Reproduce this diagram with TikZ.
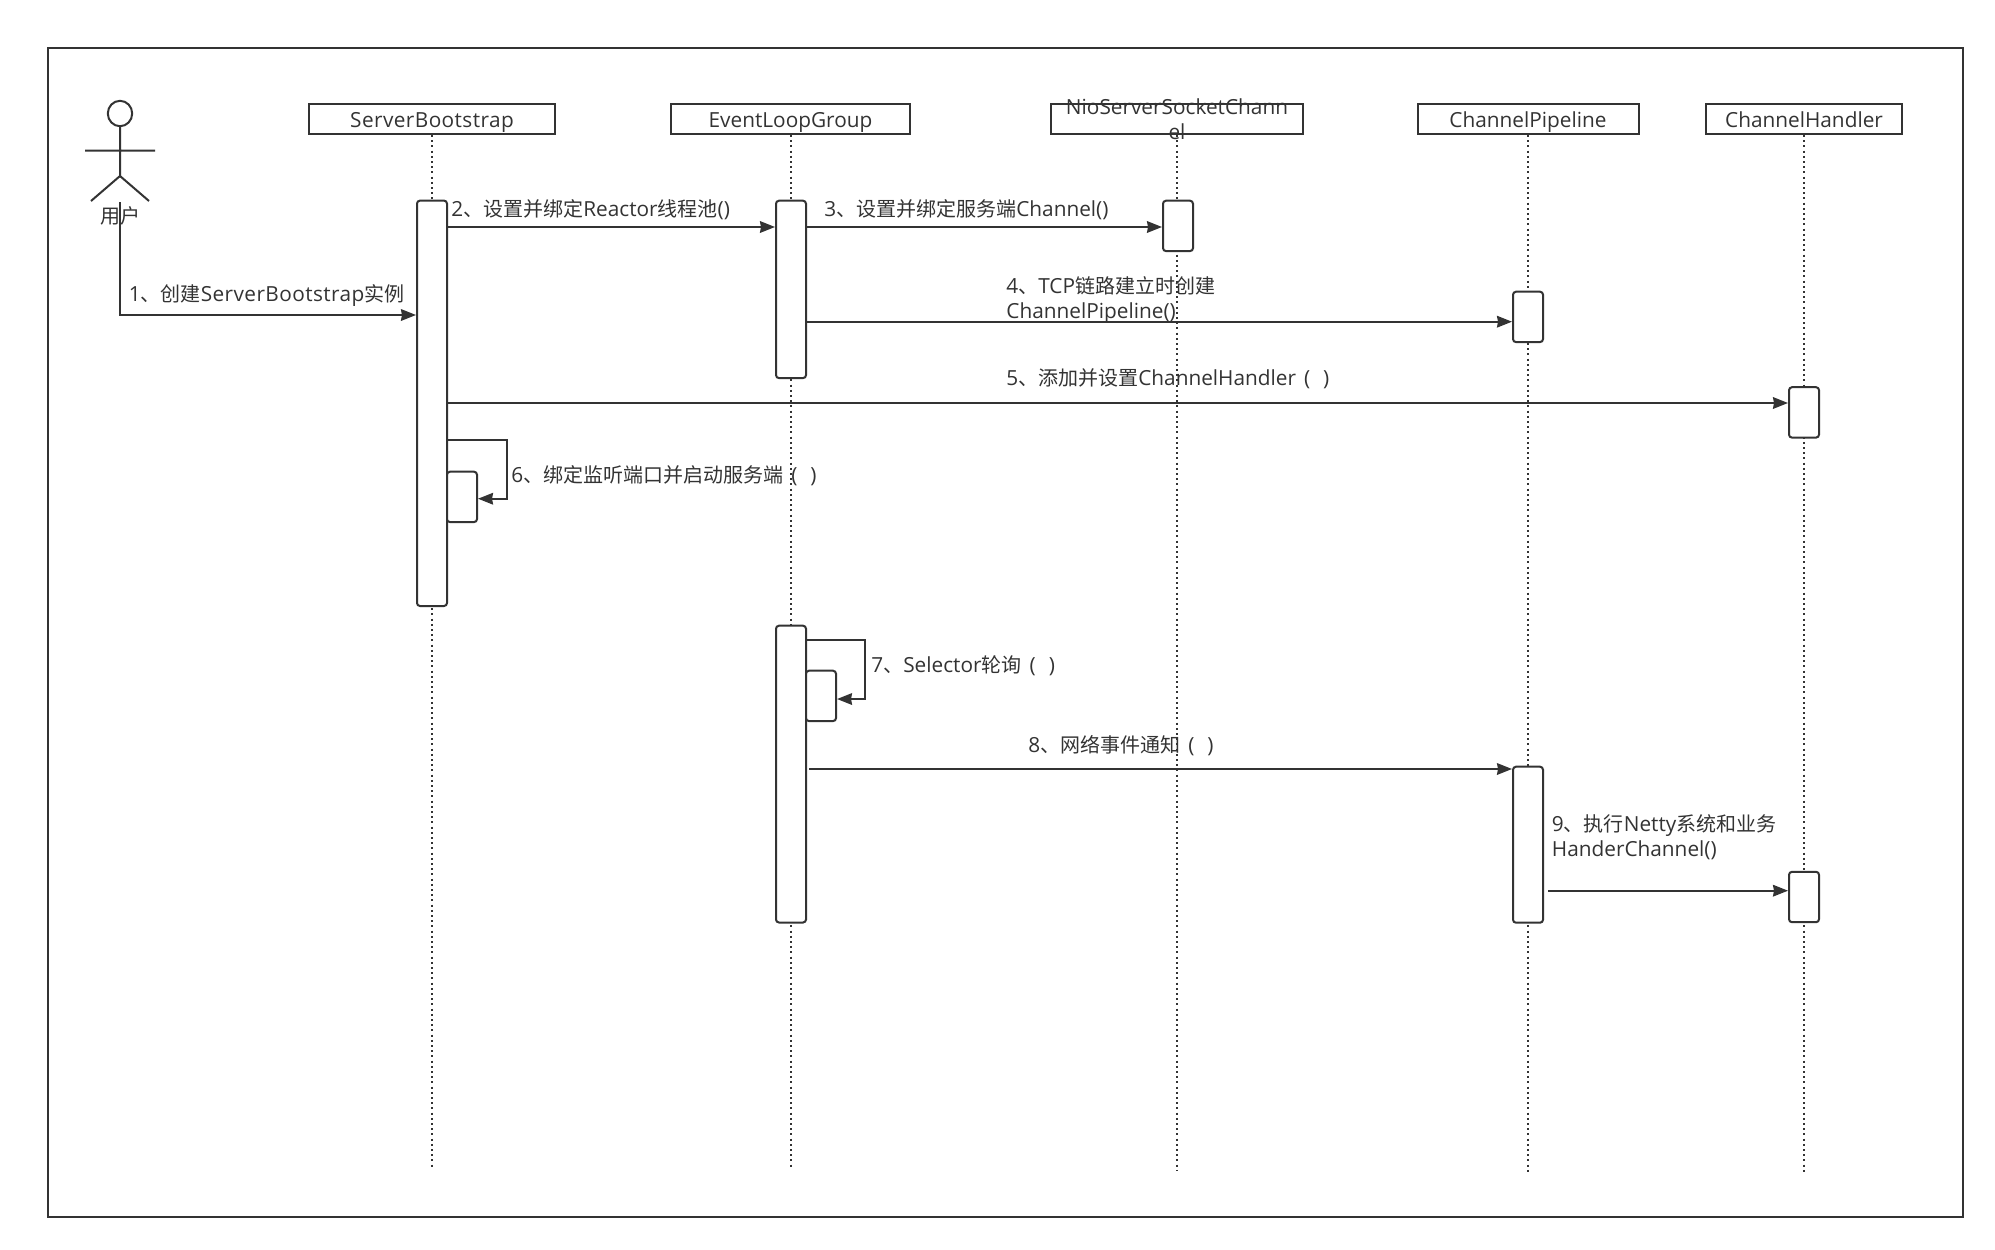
\documentclass[tikz,border=0pt]{standalone}
\usepackage{fontspec}
\setmainfont{Open Sans}[Scale=1.04]
\newfontfamily\cjk{Noto Sans CJK SC}
\newcommand{\zh}[1]{{\cjk #1}}
\newcommand{\parpair}{\hspace{4pt}(\hspace{6.5pt})}
\newcommand{\sbname}{{\addfontfeature{LetterSpace=2}ServerBootstrap}}
\usetikzlibrary{arrows.meta,positioning,calc,shapes.geometric}
\definecolor{ink}{RGB}{51,51,51}
\tikzset{
  head/.style={draw=ink,line width=1pt,minimum height=15pt,inner sep=0pt,text height=9pt,text depth=1pt,font=\fontsize{10}{12.5}\selectfont,text=ink},
  act/.style={draw=ink,fill=white,line width=1pt,rounded corners=1.5pt,minimum width=15pt,inner sep=0pt},
  msg/.style={draw=ink,line width=1pt,-{Stealth[length=7.5pt,width=5.8pt,inset=0.5pt]}},
  life/.style={draw=ink,line width=1pt,dash pattern=on 1pt off 1.6pt},
  lab/.style={anchor=west,inner sep=0pt,align=left,text=ink,font=\fontsize{10}{12.5}\selectfont},
}
\begin{document}
\begin{tikzpicture}[x=0.5pt,y=-0.5pt]
  \useasboundingbox (0,0) rectangle (1995,1249);
  \node[draw=ink,line width=1pt,minimum width=957.5pt,minimum height=584.5pt,inner sep=0pt] (frame) at (1005.5,632.5) {};
  % header boxes
  \node[head,minimum width=123pt] (sb) at (432,119) {\sbname};
  \node[head,minimum width=119.5pt] (elg) at (790.5,119) {EventLoopGroup};
  \node[head,minimum width=126pt] (nio) at (1177,119) {};
  \node[head,minimum width=110.5pt] (cp) at (1528,119) {ChannelPipeline};
  \node[head,minimum width=98pt] (ch) at (1804,119) {ChannelHandler};
  % ends of the lifelines
  \coordinate (sbend) at (432,1167);
  \coordinate (elgend) at (790.5,1167);
  \coordinate (nioend) at (1177,1171);
  \coordinate (cpend) at (1528,1175);
  \coordinate (chend) at (1804,1175);
  \foreach \n in {sb,elg,nio,cp,ch}
    \draw[life] (\n.south) -- (\n end);
  % actor
  \node[draw=ink,line width=1pt,ellipse,minimum width=12.2pt,minimum height=12.7pt,inner sep=0pt] (hd) at (120,113.5) {};
  \coordinate (hip) at (120,176);
  \coordinate (larm) at (85,150.7);
  \coordinate (rarm) at (155,150.7);
  \coordinate (lleg) at (91,201);
  \coordinate (rleg) at (149,201);
  \draw[draw=ink,line width=1pt] (hd.south) -- (hip) (larm) -- (rarm) (lleg) -- (hip) -- (rleg);
  \node[lab,anchor=center,font=\fontsize{10}{12.5}\cjk] (user) at (120,216) {用户};
  % activations
  \node[act,minimum height=202.7pt] (sb1) at (432,403.3) {};
  \node[act,minimum height=25.2pt] (sb2) at (462,496.9) {};
  \node[act,minimum height=88.7pt] (elg1) at (791,289.4) {};
  \node[act,minimum height=148.4pt] (elg2) at (791,774.1) {};
  \node[act,minimum height=25.2pt] (elg3) at (821,695.9) {};
  \node[act,minimum height=25.2pt] (nio1) at (1178,225.9) {};
  \node[act,minimum height=25.2pt] (cp1) at (1528,316.9) {};
  \node[act,minimum height=78pt] (cp2) at (1528,844.7) {};
  \node[act,minimum height=25.2pt] (ch1) at (1804,412.4) {};
  \node[act,minimum height=25.2pt] (ch2) at (1804,897) {};
  % header text
  \node[lab,anchor=center,align=center] (niotxt) at (1177,119.3) {NioServerSocketChann\\el};
  % message rows
  \coordinate (r1a) at (120,202);
  \coordinate (r1b) at (120,315);
  \coordinate (r2) at (0,227);
  \coordinate (r4) at (0,321.7);
  \coordinate (r5) at (0,403);
  \coordinate (r6a) at (507,440);
  \coordinate (r6b) at (507,498.7);
  \coordinate (r7a) at (865,640);
  \coordinate (r7b) at (865,699);
  \coordinate (r8) at (809,769);
  \coordinate (r9) at (1548,890.7);
  \draw[msg] (r1a) -- (r1b) -- (sb1.west |- r1b);
  \draw[msg] (sb1.east |- r2) -- (elg1.west |- r2);
  \draw[msg] (elg1.east |- r2) -- (nio1.west |- r2);
  \draw[msg] (elg1.east |- r4) -- (cp1.west |- r4);
  \draw[msg] (sb1.east |- r5) -- (ch1.west |- r5);
  \draw[msg] (sb1.east |- r6a) -- (r6a) -- (r6b) -- (sb2.east |- r6b);
  \draw[msg] (elg2.east |- r7a) -- (r7a) -- (r7b) -- (elg3.east |- r7b);
  \draw[msg] (r8) -- (cp2.west |- r8);
  \draw[msg] (r9) -- (ch2.west |- r9);
  % labels
  \node[lab] (l1) at (128.5,295.3) {1\zh{、创建}\sbname\zh{实例}};
  \node[lab] (l2) at (451,209.8) {2\zh{、设置并绑定}Reactor\zh{线程池}()};
  \node[lab] (l3) at (824,209.8) {3\zh{、设置并绑定服务端}Channel()};
  \node[lab] (l4) at (1006,300.5) {4\zh{、}TCP\zh{链路建立时创建}\\ChannelPipeline()};
  \node[lab] (l5) at (1006,379.2) {5\zh{、添加并设置}ChannelHandler\parpair};
  \node[lab] (l6) at (511,476) {6\zh{、绑定监听端口并启动服务端}\parpair};
  \node[lab] (l7) at (871,665.5) {7\zh{、}Selector\zh{轮询}\parpair};
  \node[lab] (l8) at (1028,746) {8\zh{、网络事件通知}\parpair};
  \node[lab] (l9) at (1551.5,837.5) {9\zh{、执行}Netty\zh{系统和业务}\\HanderChannel()};
\end{tikzpicture}
\end{document}
